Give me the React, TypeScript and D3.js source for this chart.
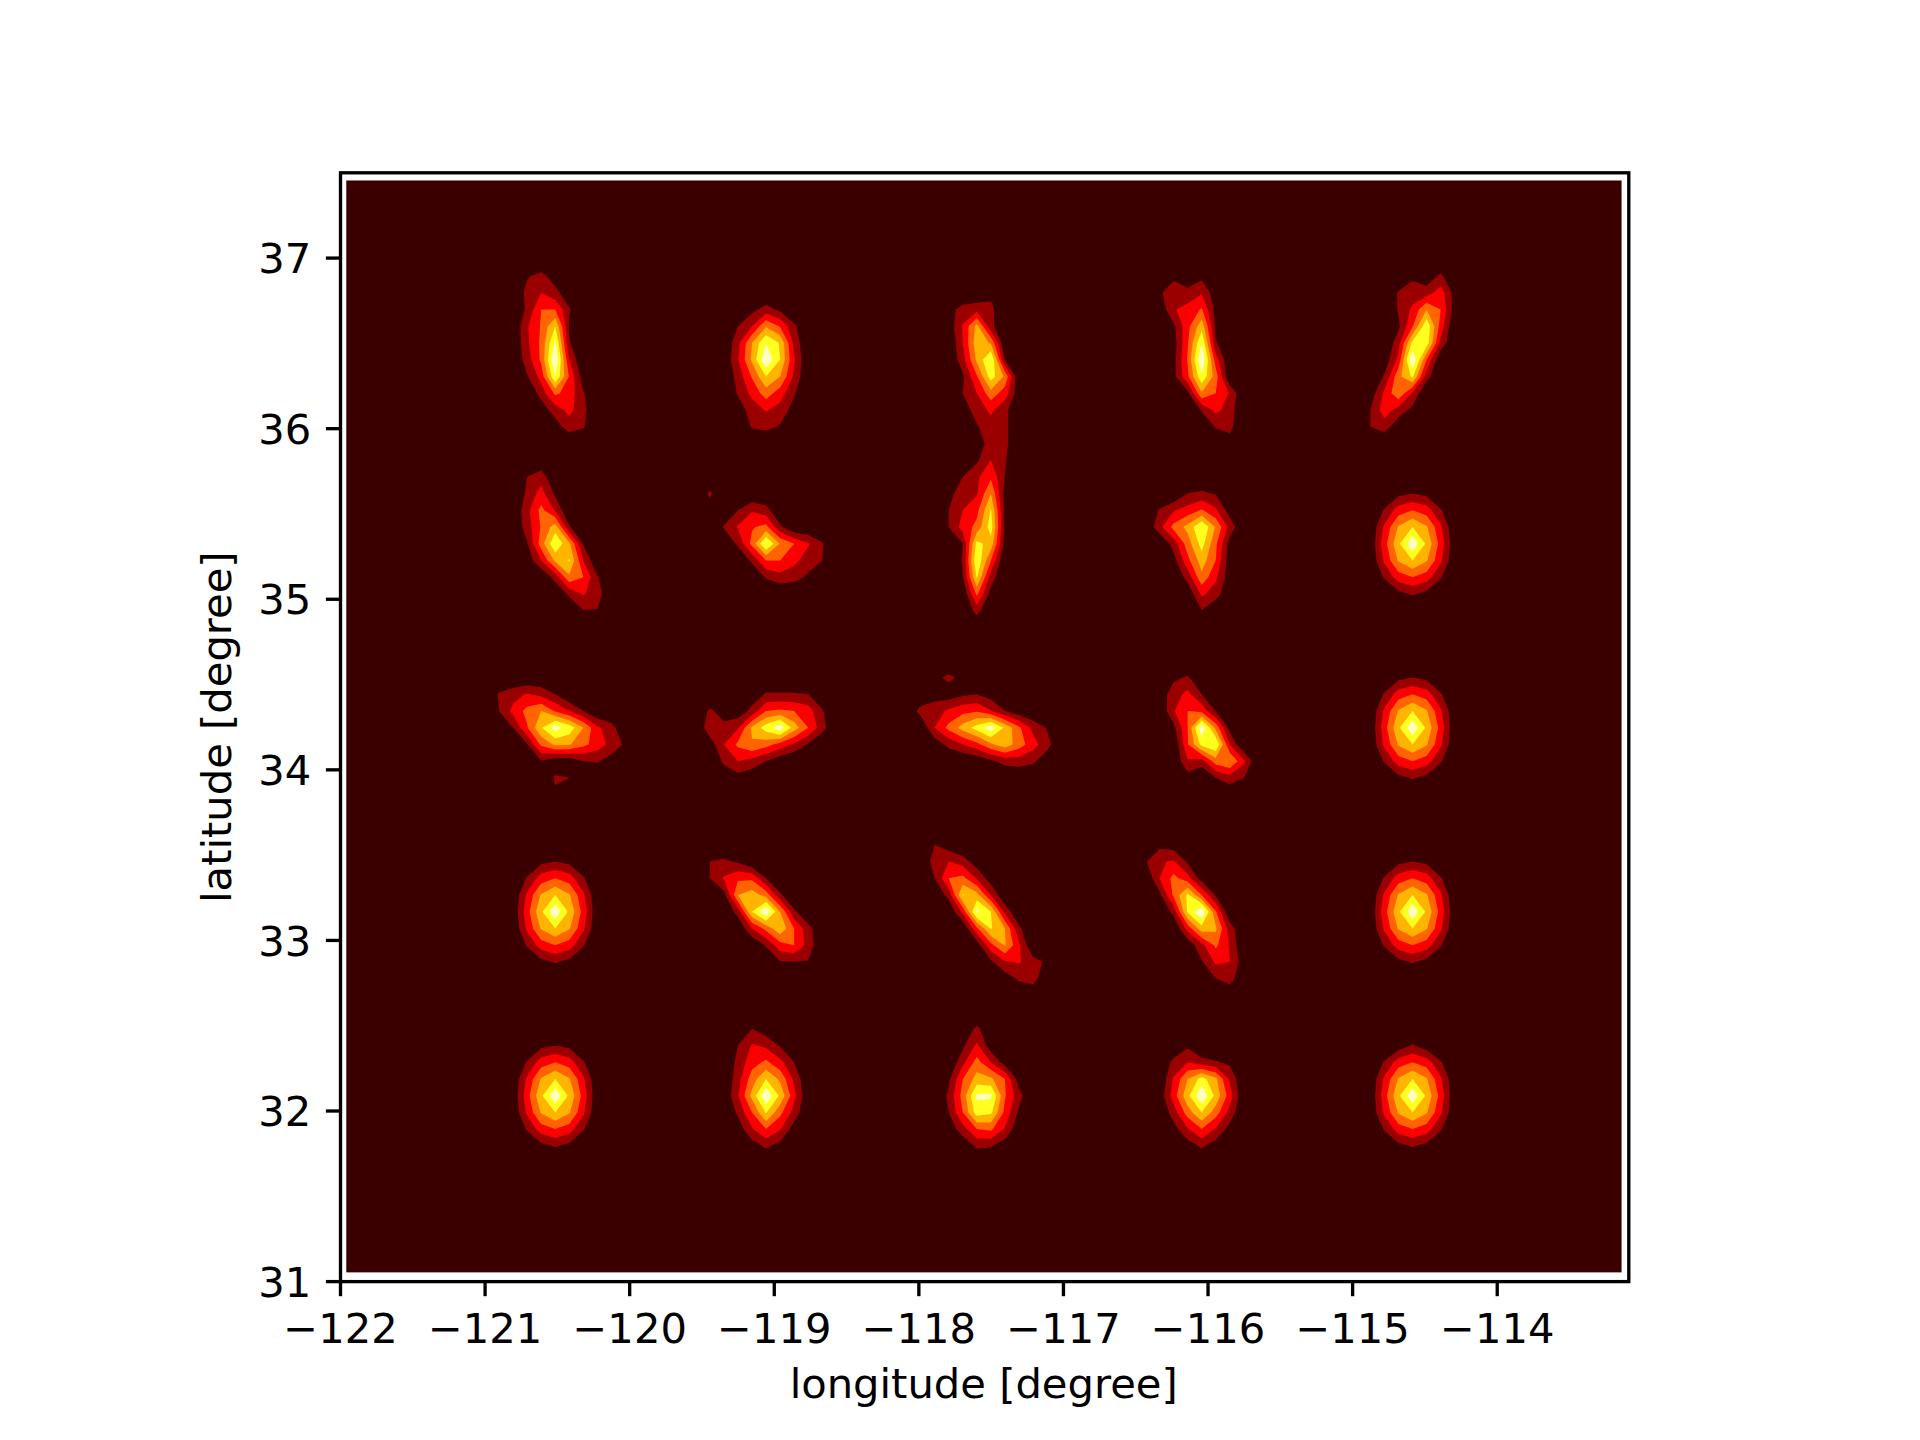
import React from "react";
import * as d3 from "d3";

// ---- values (band number: 1..6 = contour level crossed) ----
const levels = [1, 2, 3, 4, 5, 6];
const bandColors = ["#3a0000", "#9a0000", "#fb0000", "#ff6400", "#ffb400", "#ffff20", "#ffffc0"];
const xTicks = [-122, -121, -120, -119, -118, -117, -116, -115, -114];
const yTicks = [31, 32, 33, 34, 35, 36, 37];
const xDomain = [-122, -113.09];
const yDomain = [31, 37.5];
const gridLon = [-121.96, -113.14];
const gridLat = [31.054, 37.455];
const xLabel = "longitude [degree]";
const yLabel = "latitude [degree]";

const lonOrigin = -120.515;
const latOrigin = 32.09;
const lonStep = 0.0972;
const latStep = 0.09805;
const colIndex = [15, 30, 45, 61, 76];
const rowIndex = [11, 22, 33, 44, 55];

const r4c0 = [
  [0.9, 1.3, 0.5, 0, 0],
  [1.3, 2, 1.3, 0.3, 0],
  [1.2, 3, 3, 1.1, 0],
  [1.9, 3.1, 5, 0.9, 0],
  [1.8, 3.2, 6.2, 1.1, 0],
  [1.5, 3.2, 7, 2, 0],
  [0.9, 2.4, 6, 2.9, 0.4],
  [0, 1.4, 3.2, 2.6, 1.1],
  [0, 0.4, 1.5, 2.3, 1.3],
  [0, 0, 0.5, 1.5, 1.1],
];
const r4c1 = [
  [0, 0, 0.7, 1.4, 0.8, 0, 0],
  [0, 1, 2, 3.9, 2.9, 1.2, 0],
  [0, 1.7, 4, 6, 4.9, 1.7, 0],
  [0.1, 1.9, 4.2, 6.9, 5, 2.1, 0],
  [0, 1.4, 3.1, 5, 4, 1.8, 0],
  [0, 1.1, 2.3, 3.5, 2.5, 1.1, 0],
  [0, 0.5, 1.4, 2.1, 1.6, 0.6, 0],
  [0, 0, 1.1, 1.3, 0.9, 0, 0],
];
const r4c2 = [
  [0, 0, 0, 0, 0.7, 0, 0],
  [0, 0.6, 1.4, 1.7, 1.3, 0, 0],
  [0, 0.3, 2.1, 4.3, 1.3, 0, 0],
  [0, 0, 2, 4.6, 3.9, 0, 0],
  [0, 0, 1.6, 4.2, 6.1, 1, 0],
  [0, 0, 0.8, 2.9, 5.5, 3.8, 0],
  [0, 0, 1, 2, 3.6, 2.5, 0.3],
  [0, 0, 0.4, 1.5, 2.2, 1.3, 0],
  [0, 0, 0, 0.9, 1.6, 1.3, 0],
  [0, 0, 0, 0.5, 1.4, 1.3, 0],
];
const r4c3 = [
  [0, 0.7, 0.3, 0.7, 0, 0, 0],
  [0.8, 1.7, 1.3, 1.9, 0.4, 0, 0],
  [0.2, 1.9, 2.4, 3.1, 0.6, 0, 0],
  [0, 0.8, 2.7, 4.6, 0.8, 0, 0],
  [0, 0.5, 2.9, 6, 1.1, 0, 0],
  [0, 0.6, 3.1, 7, 2.5, 0, 0],
  [0, 0.7, 2.8, 5.8, 3.5, 0, 0],
  [0, 0, 0.7, 3.9, 3, 1.9, 0],
  [0, 0, 0, 1.1, 2.3, 1.5, 0],
  [0, 0, 0, 0, 1.1, 1.3, 0],
  [0, 0, 0, 0, 0.2, 0.5, 0],
];
const r4c4 = [
  [0, 0, 0, 0.8, 0.3, 1.2, 0],
  [0, 0, 1.1, 1.5, 1.5, 2.5, 0.6],
  [0, 0, 1.1, 2.2, 4, 3, 0.5],
  [0, 0, 0.8, 2.9, 5.8, 2.6, 0],
  [0, 0, 1.6, 5.3, 5.6, 1.7, 0],
  [0, 0.3, 2.3, 7, 3, 0, 0],
  [0, 1.1, 3.7, 5.2, 1.4, 0, 0],
  [0.4, 2.2, 3.8, 1.9, 0, 0, 0],
  [1, 2.5, 1.6, 0.7, 0, 0, 0],
  [1, 1.5, 0.3, 0, 0, 0, 0],
];
const r3c0 = [
  [1, 1.6, 0, 0, 0, 0, 0],
  [1.2, 2.4, 0.8, 0, 0, 0, 0],
  [1.7, 3.3, 1.9, 0, 0, 0, 0],
  [1.5, 3.1, 4.5, 1.1, 0, 0, 0],
  [0.9, 3.5, 5.9, 4.2, 0.9, 0, 0],
  [0.3, 2, 4.2, 5.1, 2, 0, 0],
  [0, 0, 1.4, 3.8, 3, 1.1, 0],
  [0, 0, 0, 1.2, 2.1, 1.5, 0],
  [0, 0, 0, 0, 0.95, 0.95, 0],
];
const r3c1 = [
  [1.2, 0, 0, 0, 0, 0, 0, 0, 0, 0],
  [0.5, 0, 1, 1.9, 1.4, 0, 0, 0, 0, 0],
  [0, 1.1, 2.1, 2.9, 3.3, 1.2, 0, 0, 0, 0],
  [0, 0, 1.2, 3.3, 6.2, 3.9, 3, 2.1, 1.1, 0],
  [0, 0, 0, 1.2, 3, 3, 2.3, 1.5, 1, 0],
  [0, 0, 0, 0, 1.1, 1.6, 1.4, 0.8, 0, 0],
];
const r3c2 = [
  [0, 0, 0.8, 2, 1.1],
  [0, 1, 1.8, 2.8, 1],
  [0.7, 1.5, 1.9, 4, 0.6],
  [1, 2, 2.7, 5.1, 0.7],
  [1, 2.4, 3.3, 5.5, 0.7],
  [0, 1, 5.3, 4.6, 0.6],
  [0, 1.1, 5.9, 3, 0],
  [0, 0.9, 5.1, 1.5, 0],
  [0, 0.1, 3.2, 0.6, 0],
  [0, 0, 1.4, 0, 0],
];
const r3c3 = [
  [0, 0, 1, 1.2, 0.9, 0, 0],
  [1.1, 1.9, 2.4, 3.1, 2.2, 0.5, 0],
  [1.7, 3.3, 4.3, 6, 3.9, 1.6, 0],
  [0, 1.4, 3.5, 5.4, 3.2, 0.6, 0],
  [0, 0.6, 2.7, 4.5, 3, 0.3, 0],
  [0, 0, 1.4, 3.7, 2.2, 0.4, 0],
  [0, 0, 0.2, 2.2, 1.5, 0, 0],
  [0, 0, 0, 0.95, 0, 0, 0],
];
const r3c4 = [
  [0, 0, 0.7, 1, 0.7, 0, 0],
  [0, 1.1, 2.5, 3, 2.5, 1.1, 0],
  [0.1, 2.2, 4.1, 5, 4.1, 2.2, 0.1],
  [0.2, 2.6, 4.8, 6.8, 4.8, 2.6, 0.2],
  [0.1, 2.2, 4.1, 5, 4.1, 2.2, 0.1],
  [0, 1.1, 2.5, 3, 2.5, 1.1, 0],
  [0, 0, 0.7, 1.1, 0.7, 0, 0],
];
const r2c0 = [
  [1.1, 1.6, 2.1, 1.7, 1, 0, 0, 0, 0, 0],
  [1, 2.3, 3.3, 4, 2.9, 2, 1, 0, 0, 0],
  [0, 1, 2.9, 4.9, 6.5, 5.6, 4, 2.2, 1.4, 0],
  [0, 0, 0.9, 3.2, 4.2, 4.1, 3.3, 2.5, 1.7, 0.8],
  [0, 0, 0, 0.9, 0.3, 0.3, 1, 1.1, 0.5, 0],
  [0, 0, 0, 0, 1.15, 1, 0, 0, 0, 0],
  [0, 0, 0, 0, 0.8, 0.6, 0, 0, 0, 0],
];
const r2c1 = [
  [0, 0, 0, 0, 0.4, 1.1, 1.1, 1.1, 1, 0.3, 0],
  [0, 1.2, 0.5, 0.3, 1.3, 3, 3.2, 3, 2.5, 1.1, 0],
  [0, 1.7, 1.3, 1.9, 4.2, 5.5, 6.7, 4.5, 3, 1.4, 0],
  [0, 0.4, 2, 3.2, 3.9, 3.4, 2.6, 1.8, 0.9, 0, 0],
  [0, 0, 1.2, 2, 1.6, 1, 0.3, 0, 0, 0, 0],
  [0, 0, 0.3, 0.6, 0.3, 0, 0, 0, 0, 0, 0],
];
const r2c2 = [
  [0, 0.7, 1.25, 0.7, 0, 0, 0, 0, 0, 0],
  [0, 0.6, 0.4, 0.8, 1, 0.5, 0, 0, 0, 0],
  [1.4, 1.5, 2.2, 2.7, 2.9, 2.1, 1, 0.3, 0, 0],
  [0, 2, 3.3, 4.4, 5.4, 6.6, 4.8, 3.2, 1.7, 0.9],
  [0, 0.4, 1.3, 2, 2.7, 3.8, 4.6, 3.5, 2.4, 1.4],
  [0, 0, 0, 0, 0.2, 0.8, 1.35, 1.5, 1.2, 0.3],
];
const r2c3 = [
  [0, 0.8, 1.1, 0.3, 0, 0, 0, 0],
  [0.4, 1.5, 2.3, 1, 0, 0, 0, 0],
  [0, 1.9, 3, 2.7, 0.9, 0, 0, 0],
  [0, 0.7, 3, 6.8, 3.7, 0.6, 0, 0],
  [0, 0, 2.9, 5.3, 6, 2, 0, 0],
  [0, 0, 1.9, 1.5, 3.5, 4, 2.2, 0],
  [0, 0, 0.5, 0, 1, 1.6, 1, 0],
];
const r2c4 = [
  [0, 0, 0.7, 1, 0.7, 0, 0],
  [0, 1.1, 2.5, 3, 2.5, 1.1, 0],
  [0.1, 2.2, 4.1, 5, 4.1, 2.2, 0.1],
  [0.2, 2.6, 4.8, 6.8, 4.8, 2.6, 0.2],
  [0.1, 2.2, 4.1, 5, 4.1, 2.2, 0.1],
  [0, 1.1, 2.5, 3, 2.5, 1.1, 0],
  [0, 0, 0.7, 1.1, 0.7, 0, 0],
];
const r1c0 = [
  [0, 0, 0.7, 1, 0.7, 0, 0],
  [0, 1.1, 2.5, 3, 2.5, 1.1, 0],
  [0.1, 2.2, 4.1, 5, 4.1, 2.2, 0.1],
  [0.2, 2.6, 4.8, 6.8, 4.8, 2.6, 0.2],
  [0.1, 2.2, 4.1, 5, 4.1, 2.2, 0.1],
  [0, 1.1, 2.5, 3, 2.5, 1.1, 0],
  [0, 0, 0.7, 1.1, 0.7, 0, 0],
];
const r1c1 = [
  [1, 1.2, 0.85, 0, 0, 0, 0, 0, 0],
  [1, 2.1, 2.8, 2.8, 1, 0, 0, 0, 0],
  [0, 0.6, 4, 4.5, 3.6, 1.2, 0, 0, 0],
  [0, 0, 1.4, 5, 7, 4, 1.2, 0, 0],
  [0, 0, 0, 2, 3.3, 4.8, 3, 1.4, 0],
  [0, 0, 0, 0, 1.1, 2.6, 3, 1.6, 0],
  [0, 0, 0, 0, 0, 0.95, 0.95, 0.95, 0],
];
const r1c2 = [
  [0, 1, 0.4, 0, 0, 0, 0, 0, 0, 0],
  [0, 1.5, 2, 1.5, 0.4, 0, 0, 0, 0, 0],
  [0, 1, 3, 3.3, 1.9, 0.4, 0, 0, 0, 0],
  [0, 0, 1.4, 5.1, 4.4, 2, 0, 0, 0, 0],
  [0, 0, 0, 2.3, 6.3, 5, 1.7, 0, 0, 0],
  [0, 0, 0, 0, 2.8, 5.1, 4, 1.2, 0, 0],
  [0, 0, 0, 0, 0.4, 2.7, 4.1, 2.2, 0, 0],
  [0, 0, 0, 0, 0, 0.8, 1.9, 2.1, 1.4, 0.8],
  [0, 0, 0, 0, 0, 0, 0.4, 1.2, 1.5, 0],
];
const r1c3 = [
  [0, 0.7, 0.5, 0, 0, 0, 0, 0],
  [0.9, 1.9, 2.1, 0.8, 0, 0, 0, 0],
  [0, 2, 3.3, 2.4, 0.5, 0, 0, 0],
  [0, 0.7, 3.2, 5.2, 3, 0.9, 0, 0],
  [0, 0, 1.3, 5.2, 7, 3.1, 0, 0],
  [0, 0, 0, 2.4, 4.6, 4.2, 1.5, 0],
  [0, 0, 0, 0.3, 1.7, 3.2, 1.9, 0],
  [0, 0, 0, 0, 0.9, 2.2, 2, 0.4],
  [0, 0, 0, 0, 0, 1, 1.5, 0],
];
const r1c4 = [
  [0, 0, 0.7, 1, 0.7, 0, 0],
  [0, 1.1, 2.5, 3, 2.5, 1.1, 0],
  [0.1, 2.2, 4.1, 5, 4.1, 2.2, 0.1],
  [0.2, 2.6, 4.8, 6.8, 4.8, 2.6, 0.2],
  [0.1, 2.2, 4.1, 5, 4.1, 2.2, 0.1],
  [0, 1.1, 2.5, 3, 2.5, 1.1, 0],
  [0, 0, 0.7, 1.1, 0.7, 0, 0],
];
const r0c0 = [
  [0, 0, 0.7, 1, 0.7, 0, 0],
  [0, 1.1, 2.5, 3, 2.5, 1.1, 0],
  [0.1, 2.2, 4.1, 5, 4.1, 2.2, 0.1],
  [0.2, 2.6, 4.8, 6.8, 4.8, 2.6, 0.2],
  [0.1, 2.2, 4.1, 5, 4.1, 2.2, 0.1],
  [0, 1.1, 2.5, 3, 2.5, 1.1, 0],
  [0, 0, 0.7, 1.1, 0.7, 0, 0],
];
const r0c1 = [
  [0, 0, 1, 0.4, 0, 0, 0],
  [0, 1, 2.1, 1.8, 0.9, 0, 0],
  [0, 1.3, 2.6, 3.2, 2.3, 1, 0],
  [0, 1.6, 3.5, 5, 3.8, 1.8, 0],
  [0.1, 1.9, 4.3, 6.9, 4.8, 2.3, 0.1],
  [0, 1.2, 3, 5.1, 3.3, 1.6, 0],
  [0, 0.4, 1.9, 3, 2.1, 0.5, 0],
  [0, 0, 0.5, 1.2, 0.6, 0, 0],
];
const r0c2 = [
  [0, 0.3, 1.2, 0.3, 0, 0],
  [0, 0.8, 2.2, 0.4, 0, 0],
  [0, 1.7, 3.4, 2, 0.5, 0],
  [0.8, 3, 4.4, 4.2, 3, 0.5],
  [1.2, 3.4, 6.2, 6.2, 3.1, 1.4],
  [1, 3, 5.5, 5.2, 2.7, 0.8],
  [0.3, 1.6, 3, 3.2, 1.9, 0.2],
  [0, 0.2, 1.2, 1.1, 0.4, 0],
];
const r0c3 = [
  [0, 0, 0.8, 0, 0, 0, 0],
  [0, 1.3, 2, 1.4, 1.1, 0.8, 0],
  [0, 2.1, 4, 5.4, 4.2, 1.8, 0],
  [0.3, 2.5, 4.7, 6.9, 4.7, 2.5, 0.1],
  [0, 1.5, 3.5, 5, 3.5, 1.6, 0],
  [0, 0.6, 1.9, 3, 1.9, 0.6, 0],
  [0, 0, 0.5, 1.2, 0.5, 0, 0],
];
const r0c4 = [
  [0, 0, 0.4, 1.1, 0.4, 0, 0],
  [0, 1.1, 2.5, 3, 2.5, 1.1, 0],
  [0.1, 2.2, 4.1, 5, 4.1, 2.2, 0.1],
  [0.2, 2.6, 4.8, 6.8, 4.8, 2.6, 0.2],
  [0.1, 2.2, 4.1, 5, 4.1, 2.2, 0.1],
  [0, 1.1, 2.5, 3, 2.5, 1.1, 0],
  [0, 0, 0.7, 1.1, 0.7, 0, 0],
];

// [row, col, first column offset, first row offset, values]
const patches: [number, number, number, number, number[][]][] = [
  [4, 0, -2, 5, r4c0], [4, 1, -3, 3, r4c1], [4, 2, -3, 4, r4c2], [4, 3, -3, 5, r4c3], [4, 4, -3, 5, r4c4],
  [3, 0, -2, 4, r3c0], [3, 1, -4, 3, r3c1], [3, 2, -2, 5, r3c2], [3, 3, -3, 3, r3c3], [3, 4, -3, 3, r3c4],
  [2, 0, -4, 2, r2c0], [2, 1, -5, 2, r2c1], [2, 2, -4, 3, r2c2], [2, 3, -3, 3, r2c3], [2, 4, -3, 3, r2c4],
  [1, 0, -3, 3, r1c0], [1, 1, -4, 3, r1c1], [1, 2, -4, 4, r1c2], [1, 3, -4, 4, r1c3], [1, 4, -3, 3, r1c4],
  [0, 0, -3, 3, r0c0], [0, 1, -3, 4, r0c1], [0, 2, -2, 4, r0c2], [0, 3, -3, 3, r0c3], [0, 4, -3, 3, r0c4],
];

const nx = 92;
const ny = 68;
const field = new Float64Array(nx * ny);
patches.forEach(([row, col, left, top, rows]) => {
  rows.forEach((vals, r) => {
    const m = rowIndex[row] + top - r;
    vals.forEach((v, c) => {
      const k = colIndex[col] + left + c;
      const at = m * nx + k;
      if (v > field[at]) field[at] = v;
    });
  });
});

const W = 1920;
const H = 1440;
const xs = d3.scaleLinear().domain(xDomain).range([340.5, 1628.8]);
const ys = d3.scaleLinear().domain(yDomain).range([1281.6, 172.8]);

const toScreen = d3.geoTransform({
  point(x: number, y: number) {
    const lon = lonOrigin + (x - 0.5 - colIndex[0]) * lonStep;
    const lat = latOrigin + (y - 0.5 - rowIndex[0]) * latStep;
    (this as any).stream.point(xs(lon), ys(lat));
  },
});
const bandPath = d3.geoPath(toScreen);
const bands = d3.contours().size([nx, ny]).thresholds(levels)(Array.from(field));

const fontFamily = "'DejaVu Sans'";
const fontSize = 41.67;
const spine = 3.33;
const tickLen = 14.6;
const fmt = (v: number) => String(v).replace("-", "\u2212");

export default function App() {
  const [x0, x1] = xs.range();
  const [yb, yt] = ys.range();
  return (
    <svg
      width={W}
      height={H}
      viewBox={`0 0 ${W} ${H}`}
      style={{ position: "absolute", left: 0, top: 0, background: "#fff" }}
      fontFamily={fontFamily}
      fontSize={fontSize}
    >
      <rect
        x={xs(gridLon[0])}
        y={ys(gridLat[1])}
        width={xs(gridLon[1]) - xs(gridLon[0])}
        height={ys(gridLat[0]) - ys(gridLat[1])}
        fill={bandColors[0]}
      />
      {bands.map((b, i) => (
        <path key={i} d={bandPath(b as any) || ""} fill={bandColors[i + 1]} />
      ))}
      <rect x={x0} y={yt} width={x1 - x0} height={yb - yt} fill="none" stroke="#000" strokeWidth={spine} />
      {xTicks.map((t) => (
        <g key={t}>
          <line x1={xs(t)} x2={xs(t)} y1={yb} y2={yb + tickLen} stroke="#000" strokeWidth={spine} />
          <text x={xs(t)} y={1342.7} textAnchor="middle" fill="#000">
            {fmt(t)}
          </text>
        </g>
      ))}
      {yTicks.map((t) => (
        <g key={t}>
          <line x1={x0 - tickLen} x2={x0} y1={ys(t)} y2={ys(t)} stroke="#000" strokeWidth={spine} />
          <text x={311.3} y={ys(t) + 15.2} textAnchor="end" fill="#000">
            {t}
          </text>
        </g>
      ))}
      <text x={(x0 + x1) / 2 - 1} y={1398} textAnchor="middle" fill="#000">
        {xLabel}
      </text>
      <text
        transform={`translate(231,${(yb + yt) / 2}) rotate(-90)`}
        textAnchor="middle"
        fill="#000"
      >
        {yLabel}
      </text>
    </svg>
  );
}
